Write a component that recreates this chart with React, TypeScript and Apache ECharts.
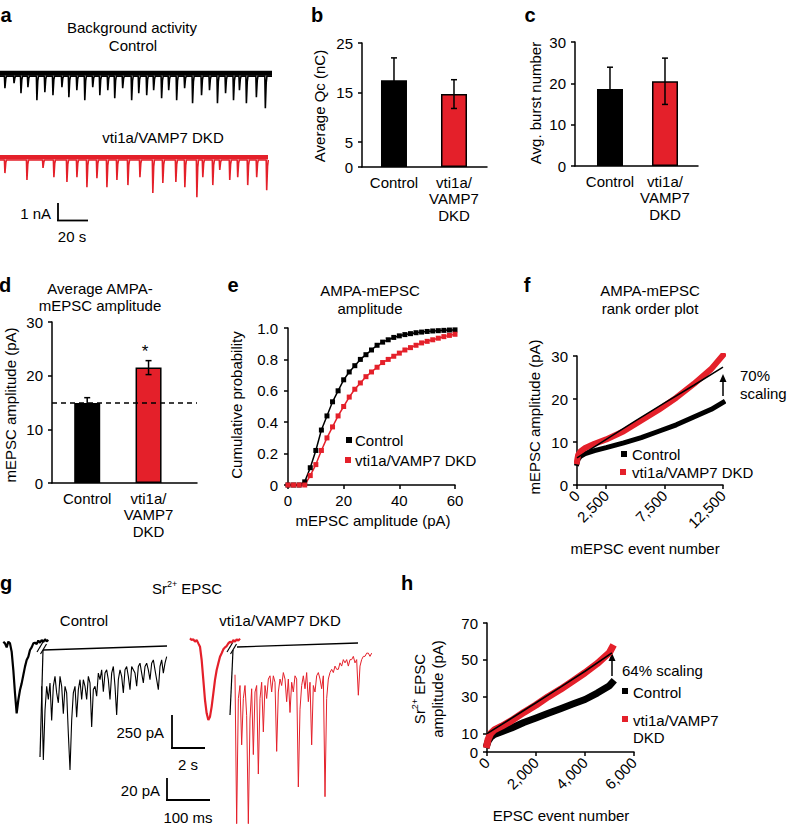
import React, { useEffect, useRef } from 'react';
import * as echarts from 'echarts';

const FONT = '"Liberation Sans", Arial, Helvetica, sans-serif';
const RED = '#e4202a';
const BLACK = '#000000';

// ---------- panel a : background activity (spike times in s, amplitudes in nA)
const aCtrlDuration = 188;
const aCtrlSpikeTimes = [3.4, 9.7, 14.5, 19.3, 25.5, 31.0, 36.6, 42.8, 47.6, 53.1, 58.6, 64.1, 69.0, 74.5, 79.3, 84.8, 91.0, 95.9, 101.4, 106.2, 111.7, 116.6, 122.1, 127.6, 133.1, 139.3, 144.8, 150.3, 155.9, 161.4, 165.5, 170.3, 177.2, 183.4];
const aCtrlSpikeAmps = [0.71, 0.41, 1.01, 0.65, 1.42, 0.95, 1.12, 0.65, 1.24, 0.83, 1.42, 0.65, 1.12, 0.83, 1.3, 0.71, 1.42, 1.01, 1.12, 0.83, 1.3, 0.83, 1.42, 0.71, 1.6, 1.12, 0.83, 1.6, 1.01, 1.42, 0.83, 1.6, 1.24, 1.89];
const aDkdDuration = 185;
const aDkdSpikeTimes = [3.4, 18.6, 29.7, 37.2, 46.2, 53.1, 60.0, 66.9, 73.8, 80.7, 88.3, 96.6, 105.5, 112.4, 121.4, 127.6, 135.9, 140.0, 146.9, 151.7, 158.6, 164.1, 171.0, 177.2, 184.1];
const aDkdSpikeAmps = [0.77, 1.18, 0.47, 1.01, 1.3, 1.01, 1.6, 1.07, 1.6, 1.18, 1.48, 1.01, 1.95, 1.36, 1.3, 1.6, 2.19, 1.01, 1.48, 0.59, 1.18, 1.01, 1.48, 1.01, 1.78];
const aNoiseLevel = 0.17;

// ---------- bar panels b, c, d
const barCategories = ['Control', 'vti1a/\nVAMP7\nDKD'];
const qcMeans = [17.5, 14.7];
const qcErrors = [4.5, 2.9];
const burstMeans = [18.6, 20.5];
const burstErrors = [5.3, 5.6];
const ampMeans = [14.9, 21.5];
const ampErrors = [1.0, 1.3];
const ampControlLevel = 15;
const qcTicks = [0, 5, 15, 25];

// ---------- panel e : cumulative probability
const cdfAmplitudes = [0, 2, 4, 6, 8, 10, 12, 14, 16, 18, 20, 22, 24, 26, 28, 30, 32, 34, 36, 38, 40, 42, 44, 46, 48, 50, 52, 54, 56, 58, 60];
const cdfControl = [0, 0, 0, 0.02, 0.11, 0.22, 0.35, 0.44, 0.53, 0.6, 0.67, 0.72, 0.76, 0.8, 0.83, 0.86, 0.89, 0.91, 0.925, 0.94, 0.95, 0.958, 0.964, 0.97, 0.974, 0.978, 0.981, 0.983, 0.985, 0.987, 0.988];
const cdfDkd = [0, 0, 0, 0, 0.06, 0.13, 0.22, 0.3, 0.37, 0.44, 0.5, 0.56, 0.61, 0.65, 0.69, 0.72, 0.75, 0.78, 0.8, 0.82, 0.84, 0.86, 0.875, 0.89, 0.905, 0.915, 0.925, 0.935, 0.945, 0.953, 0.96];

// ---------- panel f : rank order plot
const fEventNumbers = [0, 100, 300, 700, 1500, 2500, 4000, 5500, 7000, 8500, 10000, 11500, 12500];
const fControl = [5, 6, 6.7, 7.3, 8, 8.7, 9.8, 11, 12.5, 14, 15.8, 17.6, 19.2];
const fDkd = [5.5, 7, 7.8, 8.6, 9.6, 10.6, 12.5, 15, 17.5, 20.3, 23.5, 27, 30.2];
const fFitEvents = [0, 2500, 5000, 7500, 10000, 12500];
const fFit = [6.3, 10.6, 14.9, 19.1, 23.2, 27.4];
const fTicks = [0, 2500, 7500, 12500];

// ---------- panel g : Sr2+ EPSC traces (uniformly sampled currents, pA)
const gCtrlOverview = [0, -13, -43, 0, -13, -76, -215, -391, -543, -442, -366, -316, -253, -189, -139, -114, -63, -43, -13, -8, -18, 8, -8, 13, -3, 18, 3, 13];
const gCtrlZoom = [-33, -100, -55, -33, -45, -30, -64, -33, -24, -39, -48, -24, -33, -58, -33, -39, -76, -109, -64, -39, -33, -61, -36, -27, -45, -27, -33, -45, -24, -30, -70, -36, -33, -42, -21, -27, -18, -38, -21, -18, -27, -45, -21, -15, -33, -59, -27, -18, -24, -39, -18, -15, -24, -36, -15, -18, -21, -33, -15, -12, -21, -30, -15, -12, -18, -27, -12, -9, -18, -27, -36, -15, -9, -21, -12, -6];
const gDkdOverview = [25, 13, 18, 0, 13, -13, -38, -139, -290, -442, -543, -593, -568, -492, -391, -290, -215, -164, -114, -88, -58, -43, -33, -13, 0, -8, 13, 0, 18, 8, 23];
const gDkdZoom = [-23, -161, -45, -33, -88, -45, -33, -61, -161, -64, -36, -97, -39, -33, -115, -45, -30, -76, -33, -45, -27, -24, -39, -24, -30, -94, -39, -27, -33, -21, -27, -48, -27, -58, -30, -39, -24, -27, -127, -55, -33, -24, -36, -21, -48, -30, -88, -33, -39, -24, -21, -27, -36, -24, -136, -45, -27, -21, -18, -21, -15, -18, -18, -12, -15, -9, -12, -9, -15, -9, -9, -6, -12, -9, -42, -15, -9, -6, -6, -3, -3, -6, -3];

// ---------- panel h : Sr2+ EPSC rank order
const hEventNumbers = [0, 50, 150, 300, 600, 1000, 1500, 2000, 2500, 3000, 3500, 4000, 4500, 5000, 5100];
const hControl = [4, 6, 8, 9.5, 11, 13, 16, 18.5, 21, 23.5, 26, 28.5, 32, 36, 37.5];
const hDkd = [4, 7, 10, 12, 14, 17, 21.5, 25.5, 30, 34, 38.5, 43, 48, 54, 56.5];
const hFitEvents = [0, 1000, 2000, 3000, 4000, 5100];
const hFit = [10, 18.3, 26.7, 35.2, 43.8, 53.8];
const hTicks = [0, 10, 30, 50, 70];

function spikeTrace(times: number[], amps: number[], duration: number) {
  const pts: number[][] = [[0, 0]];
  times.forEach((t, i) => {
    pts.push([t - 0.35, 0], [t, -amps[i]], [t + 0.6, -amps[i] * 0.2], [t + 1.1, 0]);
  });
  pts.push([duration, 0]);
  return pts;
}

const axisLine = { show: true, onZero: false, lineStyle: { color: BLACK, width: 1.5 } };
const axisTick = { show: true, length: 4, lineStyle: { color: BLACK, width: 1.5 } };
const axisLabel = { color: BLACK, fontSize: 15, fontFamily: FONT };

function txt(text: string, x: number, y: number, extra: any = {}, rot = 0) {
  return {
    type: 'text', x, y, rotation: rot, silent: true,
    style: { text, fill: BLACK, fontSize: 15, fontFamily: FONT, align: 'center', verticalAlign: 'middle', ...extra },
  };
}
function letter(t: string, x: number, y: number) {
  return txt(t, x, y, { fontSize: 20, fontWeight: 'bold' });
}
function ln(x1: number, y1: number, x2: number, y2: number, w = 1.8) {
  return { type: 'line', silent: true, shape: { x1, y1, x2, y2 }, style: { stroke: BLACK, lineWidth: w } };
}
function sq(cx: number, cy: number, color: string) {
  return { type: 'rect', silent: true, shape: { x: cx - 3, y: cy - 3, width: 6, height: 6 }, style: { fill: color } };
}
function arrowUp(x: number, yBottom: number, yTip: number) {
  return [
    ln(x, yBottom, x, yTip + 6, 1.5),
    { type: 'polygon', silent: true, shape: { points: [[x, yTip], [x - 3.5, yTip + 8], [x + 3.5, yTip + 8]] }, style: { fill: BLACK } },
  ];
}

function errorSeries(gi: number, means: number[], errs: number[]) {
  return {
    type: 'custom', xAxisIndex: gi, yAxisIndex: gi, z: 5,
    data: means.map((m, i) => [i + 1, m, errs[i]]),
    encode: { x: 0, y: 1 },
    renderItem: (_p: any, api: any) => {
      const x = api.value(0), m = api.value(1), e = api.value(2);
      const top = api.coord([x, m + e]);
      const bot = api.coord([x, m - e]);
      const st = { stroke: BLACK, lineWidth: 1.5 };
      const c = 3;
      return {
        type: 'group', children: [
          { type: 'line', shape: { x1: top[0], y1: top[1], x2: bot[0], y2: bot[1] }, style: st },
          { type: 'line', shape: { x1: top[0] - c, y1: top[1], x2: top[0] + c, y2: top[1] }, style: st },
          { type: 'line', shape: { x1: bot[0] - c, y1: bot[1], x2: bot[0] + c, y2: bot[1] }, style: st },
        ],
      };
    },
  };
}
function barSeries(gi: number, means: number[], extra: any = {}) {
  return {
    type: 'bar', xAxisIndex: gi, yAxisIndex: gi, barWidth: 26,
    data: means.map((m, i) => ({ value: [i + 1, m], itemStyle: { color: i === 0 ? BLACK : RED, borderColor: BLACK, borderWidth: 1.5 } })),
    ...extra,
  };
}
function barXAxis(gi: number, min: number, max: number) {
  return {
    type: 'value', gridIndex: gi, min, max, axisLine, axisTick: { show: false }, splitLine: { show: false },
    axisLabel: { ...axisLabel, margin: 7, lineHeight: 16.5, customValues: [1, 2], formatter: (v: number) => barCategories[Math.round(v) - 1] || '' },
  };
}
function valueYAxis(gi: number, min: number, max: number, extra: any = {}) {
  return {
    type: 'value', gridIndex: gi, min, max, axisLine, axisTick, splitLine: { show: false },
    axisLabel: { ...axisLabel, margin: 9 }, ...extra,
  };
}
function hiddenCat(gi: number, n: number) {
  return { type: 'category', gridIndex: gi, show: false, boundaryGap: false, data: Array.from({ length: n }, (_, i) => i) };
}
function hiddenVal(gi: number, min: number, max: number) {
  return { type: 'value', gridIndex: gi, show: false, min, max };
}
function pairs(xs: number[], ys: number[]) {
  return xs.map((x, i) => [x, ys[i]]);
}
const thousands = (v: number) => v.toLocaleString('en-US');

export default function App() {
  const ref = useRef<HTMLDivElement>(null);
  useEffect(() => {
    document.body.style.margin = '0';
    const chart = echarts.init(ref.current!, null, { renderer: 'svg' });

    const grids = [
      { left: 0, top: 66, width: 272, height: 44 },
      { left: 0, top: 149, width: 268, height: 50 },
      { left: 362, top: 43, width: 125, height: 124 },
      { left: 575, top: 42, width: 123, height: 124 },
      { left: 52, top: 322, width: 145, height: 161 },
      { left: 288, top: 328, width: 167, height: 157 },
      { left: 577, top: 356, width: 146, height: 129 },
      { left: 3.33, top: 631.1, width: 45, height: 89.76 },
      { left: 41.67, top: 644.5, width: 125, height: 132 },
      { left: 190, top: 631.1, width: 50, height: 89.76 },
      { left: 235, top: 644.5, width: 136.67, height: 187 },
      { left: 487, top: 623, width: 147, height: 129 },
    ];

    const xAxes = [
      hiddenVal(0, 0, aCtrlDuration),
      hiddenVal(1, 0, aDkdDuration),
      barXAxis(2, 0.467, 2.55),
      barXAxis(3, 0.364, 2.6),
      barXAxis(4, 0.426, 2.79),
      { type: 'value', gridIndex: 5, min: 0, max: 60, interval: 20, axisLine, axisTick, splitLine: { show: false }, axisLabel: { ...axisLabel, margin: 8 } },
      {
        type: 'value', gridIndex: 6, min: 0, max: 12500, axisLine, splitLine: { show: false },
        axisTick: { ...axisTick, customValues: fTicks },
        axisLabel: { ...axisLabel, rotate: 45, margin: 8, customValues: fTicks, formatter: thousands },
      },
      hiddenCat(7, gCtrlOverview.length),
      hiddenCat(8, gCtrlZoom.length),
      hiddenCat(9, gDkdOverview.length),
      hiddenCat(10, gDkdZoom.length),
      {
        type: 'value', gridIndex: 11, min: 0, max: 6000, interval: 2000, axisLine, axisTick, splitLine: { show: false },
        axisLabel: { ...axisLabel, rotate: 45, margin: 8, formatter: thousands },
      },
    ];

    const yAxes = [
      hiddenVal(0, -2.0, 0.6),
      hiddenVal(1, -2.3, 0.65),
      valueYAxis(2, 0, 25, {
        axisTick: { ...axisTick, customValues: qcTicks },
        axisLabel: { ...axisLabel, margin: 9, customValues: qcTicks },
      }),
      valueYAxis(3, 0, 30, { interval: 10 }),
      valueYAxis(4, 0, 30, { interval: 10 }),
      valueYAxis(5, 0, 1, { interval: 0.2, axisLabel: { ...axisLabel, margin: 10, formatter: (v: number) => (v === 0 ? '0' : v.toFixed(1)) } }),
      valueYAxis(6, 0, 30, { interval: 10 }),
      hiddenVal(7, -600, 80),
      hiddenVal(8, -115, 5),
      hiddenVal(9, -600, 80),
      hiddenVal(10, -165, 5),
      valueYAxis(11, 0, 70, {
        axisTick: { ...axisTick, customValues: hTicks },
        axisLabel: { ...axisLabel, margin: 9, customValues: hTicks },
      }),
    ];

    const lineBase = { type: 'line', showSymbol: false, symbol: 'none', silent: true };

    const series: any[] = [
      // a
      { ...lineBase, xAxisIndex: 0, yAxisIndex: 0, data: [[0, aNoiseLevel], [aCtrlDuration, aNoiseLevel]], lineStyle: { color: BLACK, width: 5 } },
      { ...lineBase, xAxisIndex: 0, yAxisIndex: 0, data: spikeTrace(aCtrlSpikeTimes, aCtrlSpikeAmps, aCtrlDuration), lineStyle: { color: BLACK, width: 1.6 } },
      { ...lineBase, xAxisIndex: 1, yAxisIndex: 1, data: [[0, aNoiseLevel], [aDkdDuration, aNoiseLevel]], lineStyle: { color: RED, width: 4.5 } },
      { ...lineBase, xAxisIndex: 1, yAxisIndex: 1, data: spikeTrace(aDkdSpikeTimes, aDkdSpikeAmps, aDkdDuration), lineStyle: { color: RED, width: 1.6 } },
      // b
      barSeries(2, qcMeans),
      errorSeries(2, qcMeans, qcErrors),
      // c
      barSeries(3, burstMeans),
      errorSeries(3, burstMeans, burstErrors),
      // d
      barSeries(4, ampMeans, {
        markLine: {
          silent: true, symbol: 'none', label: { show: false },
          lineStyle: { type: [5, 4], color: BLACK, width: 1.6 },
          data: [{ yAxis: ampControlLevel }],
        },
      }),
      errorSeries(4, ampMeans, ampErrors),
      // e
      { type: 'line', xAxisIndex: 5, yAxisIndex: 5, data: pairs(cdfAmplitudes, cdfControl), symbol: 'rect', symbolSize: 5, lineStyle: { color: BLACK, width: 1.5 }, itemStyle: { color: BLACK } },
      { type: 'line', xAxisIndex: 5, yAxisIndex: 5, data: pairs(cdfAmplitudes, cdfDkd), symbol: 'rect', symbolSize: 5, lineStyle: { color: RED, width: 1.5 }, itemStyle: { color: RED } },
      // f
      { ...lineBase, xAxisIndex: 6, yAxisIndex: 6, data: pairs(fEventNumbers, fControl), lineStyle: { color: BLACK, width: 5, cap: 'square' } },
      { ...lineBase, xAxisIndex: 6, yAxisIndex: 6, data: pairs(fEventNumbers, fDkd), lineStyle: { color: RED, width: 6, cap: 'square' } },
      { ...lineBase, xAxisIndex: 6, yAxisIndex: 6, data: pairs(fFitEvents, fFit), lineStyle: { color: BLACK, width: 1.5 } },
      // g
      { ...lineBase, xAxisIndex: 7, yAxisIndex: 7, data: gCtrlOverview, lineStyle: { color: BLACK, width: 2.2 } },
      { ...lineBase, xAxisIndex: 8, yAxisIndex: 8, data: gCtrlZoom, lineStyle: { color: BLACK, width: 1.1 } },
      { ...lineBase, xAxisIndex: 9, yAxisIndex: 9, data: gDkdOverview, lineStyle: { color: RED, width: 2.2 } },
      { ...lineBase, xAxisIndex: 10, yAxisIndex: 10, data: gDkdZoom, lineStyle: { color: RED, width: 1 } },
      // h
      { ...lineBase, xAxisIndex: 11, yAxisIndex: 11, data: pairs(hEventNumbers, hControl), lineStyle: { color: BLACK, width: 7, cap: 'square' } },
      { ...lineBase, xAxisIndex: 11, yAxisIndex: 11, data: pairs(hEventNumbers, hDkd), lineStyle: { color: RED, width: 7, cap: 'square' } },
      { ...lineBase, xAxisIndex: 11, yAxisIndex: 11, data: pairs(hFitEvents, hFit), lineStyle: { color: BLACK, width: 1.6 } },
    ];

    const supRich = { sup: { fontSize: 9, fontFamily: FONT, fill: BLACK, verticalAlign: 'top', lineHeight: 18 }, n: { fontSize: 15, fontFamily: FONT, fill: BLACK, lineHeight: 18 } };

    const elements: any[] = [
      // a
      letter('a', 6, 15),
      txt('Background activity', 132, 27),
      txt('Control', 133, 45),
      txt('vti1a/VAMP7 DKD', 163, 137),
      ln(58, 203, 58, 221), ln(57.1, 220.5, 88, 220.5),
      txt('1 nA', 51, 213, { align: 'right' }),
      txt('20 s', 72, 236),
      // b
      letter('b', 317, 15),
      txt('Average Qc (nC)', 319, 106, {}, Math.PI / 2),
      // c
      letter('c', 530, 15),
      txt('Avg. burst number', 535, 103, {}, Math.PI / 2),
      // d
      letter('d', 5, 285),
      txt('Average AMPA-', 100, 288),
      txt('mEPSC amplitude', 100, 305),
      txt('mEPSC amplitude (pA)', 10, 405, {}, Math.PI / 2),
      txt('*', 145, 351, { fontSize: 17 }),
      // e
      letter('e', 233, 285),
      txt('AMPA-mEPSC', 370, 290),
      txt('amplitude', 370, 308),
      txt('Cumulative probability', 236, 405, {}, Math.PI / 2),
      txt('mEPSC amplitude (pA)', 373, 520),
      sq(349, 440, BLACK), txt('Control', 355, 440, { align: 'left' }),
      sq(348, 460, RED), txt('vti1a/VAMP7 DKD', 355, 460, { align: 'left' }),
      // f
      letter('f', 527, 285),
      txt('AMPA-mEPSC', 650, 290),
      txt('rank order plot', 650, 308),
      txt('mEPSC amplitude (pA)', 534, 417, {}, Math.PI / 2),
      txt('mEPSC event number', 645, 548),
      sq(624, 454, BLACK), txt('Control', 632, 454, { align: 'left' }),
      sq(623, 472, RED), txt('vti1a/VAMP7 DKD', 632, 472, { align: 'left' }),
      ...arrowUp(723, 396, 374),
      txt('70%', 740, 375, { align: 'left' }),
      txt('scaling', 740, 393, { align: 'left' }),
      // g
      letter('g', 6, 583),
      txt('', 187, 588, { text: '{n|Sr}{sup|2+}{n| EPSC}', rich: supRich }),
      txt('Control', 84, 620),
      txt('vti1a/VAMP7 DKD', 280, 620),
      ln(43, 650, 167, 646, 1.3), ln(43, 650, 40, 757, 1.2),
      ln(37, 652, 43, 642, 1.2), ln(40.5, 654, 46.5, 644, 1.2),
      ln(237, 647, 358, 643, 1.3), ln(233, 650, 230, 715, 1.2),
      ln(227, 652, 233, 642, 1.2), ln(230.5, 654, 236.5, 644, 1.2),
      ln(172, 715, 172, 749), ln(171.1, 748, 205, 748),
      txt('250 pA', 164, 732, { align: 'right' }),
      txt('2 s', 188, 764),
      ln(167, 778, 167, 801), ln(166.1, 800, 210, 800),
      txt('20 pA', 160, 790, { align: 'right' }),
      txt('100 ms', 188, 817),
      // h
      letter('h', 407, 583),
      txt('', 428, 689, { text: '{n|Sr}{sup|2+}{n| EPSC}\n{n|amplitude (pA)}', rich: supRich }, Math.PI / 2),
      txt('EPSC event number', 561, 815),
      ...arrowUp(612, 676, 653),
      txt('64% scaling', 622, 670, { align: 'left' }),
      sq(625, 691, BLACK), txt('Control', 633, 692, { align: 'left' }),
      sq(625, 719, RED), txt('vti1a/VAMP7', 633, 720, { align: 'left' }),
      txt('DKD', 633, 737, { align: 'left' }),
    ];

    chart.setOption({
      animation: false,
      backgroundColor: '#ffffff',
      textStyle: { fontFamily: FONT },
      grid: grids,
      xAxis: xAxes,
      yAxis: yAxes,
      series,
      graphic: { elements },
    });
    return () => chart.dispose();
  }, []);
  return <div ref={ref} style={{ position: 'absolute', left: 0, top: 0, width: 788, height: 828, background: '#fff' }} />;
}
